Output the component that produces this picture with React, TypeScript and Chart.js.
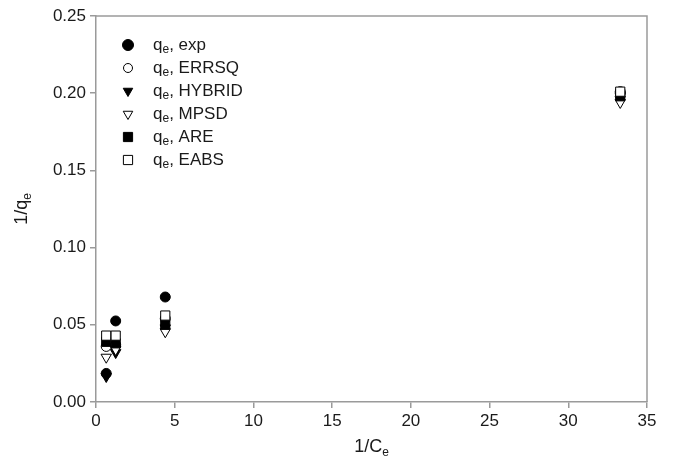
import React, { useEffect, useRef } from "react";
import { Chart, registerables } from "chart.js";

Chart.register(...registerables);

const xValues = [0.65, 1.25, 4.4, 33.3];
const expValues = [0.0185, 0.0525, 0.068, 0.2];
const errsqValues = [0.036, 0.037, 0.054, 0.201];
const hybridValues = [0.0165, 0.032, 0.048, 0.196];
const mpsdValues = [0.029, 0.034, 0.0455, 0.194];
const areValues = [0.039, 0.038, 0.05, 0.198];
const eabsValues = [0.043, 0.043, 0.056, 0.201];

const seriesNames = ["exp", "ERRSQ", "HYBRID", "MPSD", "ARE", "EABS"];
const xTicks = [0, 5, 10, 15, 20, 25, 30, 35];
const yTicks = [0, 0.05, 0.1, 0.15, 0.2, 0.25];

const FONT = "'Liberation Sans', Arial, sans-serif";
const AXIS = "#9a9a9a";
const TEXT = "#1a1a1a";

type Style = { pointStyle: string; radius: number; filled: boolean; rotation: number };
const styles: Style[] = [
  { pointStyle: "circle", radius: 5, filled: true, rotation: 0 },
  { pointStyle: "circle", radius: 5, filled: false, rotation: 0 },
  { pointStyle: "triangle", radius: 6, filled: true, rotation: 180 },
  { pointStyle: "triangle", radius: 6, filled: false, rotation: 180 },
  { pointStyle: "rect", radius: 6.5, filled: true, rotation: 0 },
  { pointStyle: "rect", radius: 6.5, filled: false, rotation: 0 },
];

const allValues = [expValues, errsqValues, hybridValues, mpsdValues, areValues, eabsValues];

function drawSubText(
  ctx: CanvasRenderingContext2D,
  x: number,
  y: number,
  parts: { t: string; sub?: boolean }[],
  size: number,
  align: "left" | "center"
) {
  const subSize = Math.round(size * 0.68);
  let total = 0;
  for (const p of parts) {
    ctx.font = `${p.sub ? subSize : size}px ${FONT}`;
    total += ctx.measureText(p.t).width;
  }
  let cx = align === "center" ? x - total / 2 : x;
  ctx.textBaseline = "middle";
  ctx.textAlign = "left";
  for (const p of parts) {
    ctx.font = `${p.sub ? subSize : size}px ${FONT}`;
    ctx.fillText(p.t, cx, p.sub ? y + size * 0.3 : y);
    cx += ctx.measureText(p.t).width;
  }
}

function drawMarker(ctx: CanvasRenderingContext2D, style: string, r: number, rotation: number, x: number, y: number) {
  ctx.beginPath();
  if (style === "circle") {
    ctx.arc(x, y, r, 0, Math.PI * 2);
  } else if (style === "triangle") {
    const rad = (rotation * Math.PI) / 180;
    for (let k = 0; k < 3; k++) {
      const a = rad + (k * 2 * Math.PI) / 3;
      const px = x + Math.sin(a) * r;
      const py = y - Math.cos(a) * r;
      if (k === 0) ctx.moveTo(px, py);
      else ctx.lineTo(px, py);
    }
    ctx.closePath();
  } else {
    const h = r * Math.SQRT1_2;
    ctx.rect(x - h, y - h, 2 * h, 2 * h);
  }
  ctx.fill();
  ctx.stroke();
}

const decorPlugin = {
  id: "decor",
  afterDatasetsDraw(chart: any) {
    const { ctx, chartArea } = chart;
    ctx.save();
    ctx.strokeStyle = AXIS;
    ctx.lineWidth = 1.5;
    ctx.beginPath();
    ctx.moveTo(chartArea.left, chartArea.top);
    ctx.lineTo(chartArea.right, chartArea.top);
    ctx.lineTo(chartArea.right, chartArea.bottom);
    ctx.stroke();
    ctx.restore();
  },
  afterDraw(chart: any) {
    const { ctx, chartArea } = chart;
    ctx.save();
    ctx.fillStyle = TEXT;
    const rowStart = 45;
    const rowStep = 23;
    for (let i = 0; i < seriesNames.length; i++) {
      const y = rowStart + i * rowStep;
      const s = styles[i];
      ctx.save();
      ctx.fillStyle = s.filled ? "#000" : "#fff";
      ctx.strokeStyle = "#000";
      ctx.lineWidth = 1;
      const r = s.pointStyle === "circle" ? (s.filled ? 5.5 : 4.5) : s.pointStyle === "triangle" ? 5.5 : 6.5;
      drawMarker(ctx, s.pointStyle, r, s.rotation, 128, y);
      ctx.restore();
      ctx.fillStyle = TEXT;
      drawSubText(ctx, 153, y, [{ t: "q" }, { t: "e", sub: true }, { t: ", " + seriesNames[i] }], 17, "left");
    }
    const cx = (chartArea.left + chartArea.right) / 2;
    drawSubText(ctx, cx, 447, [{ t: "1/C" }, { t: "e", sub: true }], 18, "center");
    ctx.save();
    ctx.translate(22, (chartArea.top + chartArea.bottom) / 2);
    ctx.rotate(-Math.PI / 2);
    drawSubText(ctx, 0, 0, [{ t: "1/q" }, { t: "e", sub: true }], 18, "center");
    ctx.restore();
    ctx.restore();
  },
};

export default function App() {
  const ref = useRef<HTMLCanvasElement>(null);
  useEffect(() => {
    document.body.style.margin = "0";
    const canvas = ref.current!;
    const datasets = seriesNames.map((name, i) => ({
      label: name,
      data: xValues.map((x, j) => ({ x, y: allValues[i][j] })),
      pointStyle: styles[i].pointStyle,
      pointRadius: styles[i].radius,
      pointRotation: styles[i].rotation,
      pointBackgroundColor: styles[i].filled ? "#000" : "#fff",
      pointBorderColor: "#000",
      pointBorderWidth: 1,
      showLine: false,
      order: seriesNames.length - i,
    }));
    const chart = new Chart(canvas, {
      type: "scatter",
      data: { datasets },
      plugins: [decorPlugin],
      options: {
        animation: false,
        responsive: false,
        devicePixelRatio: 1,
        layout: { padding: { left: 0, top: 16, right: 27, bottom: 0 } },
        plugins: { legend: { display: false }, tooltip: { enabled: false } },
        scales: {
          x: {
            type: "linear",
            min: 0,
            max: 35,
            afterBuildTicks: (s: any) => {
              s.ticks = xTicks.map((v) => ({ value: v }));
            },
            afterFit: (s: any) => {
              s.height = 58;
            },
            ticks: { color: TEXT, font: { family: FONT, size: 17 }, padding: 3, callback: (v: any) => String(v) },
            grid: { display: true, drawOnChartArea: false, drawTicks: true, tickLength: 6, color: AXIS, lineWidth: 1.5 },
            border: { display: true, color: AXIS, width: 1.5 },
          },
          y: {
            type: "linear",
            min: 0,
            max: 0.25,
            afterBuildTicks: (s: any) => {
              s.ticks = yTicks.map((v) => ({ value: v }));
            },
            afterFit: (s: any) => {
              s.width = 96;
            },
            ticks: { color: TEXT, font: { family: FONT, size: 17 }, padding: 4, callback: (v: any) => Number(v).toFixed(2) },
            grid: { display: true, drawOnChartArea: false, drawTicks: true, tickLength: 6, color: AXIS, lineWidth: 1.5 },
            border: { display: true, color: AXIS, width: 1.5 },
          },
        },
      },
    } as any);
    return () => chart.destroy();
  }, []);
  return (
    <div style={{ width: 674, height: 460 }}>
      <canvas ref={ref} width={674} height={460} style={{ display: "block", width: 674, height: 460 }} />
    </div>
  );
}
